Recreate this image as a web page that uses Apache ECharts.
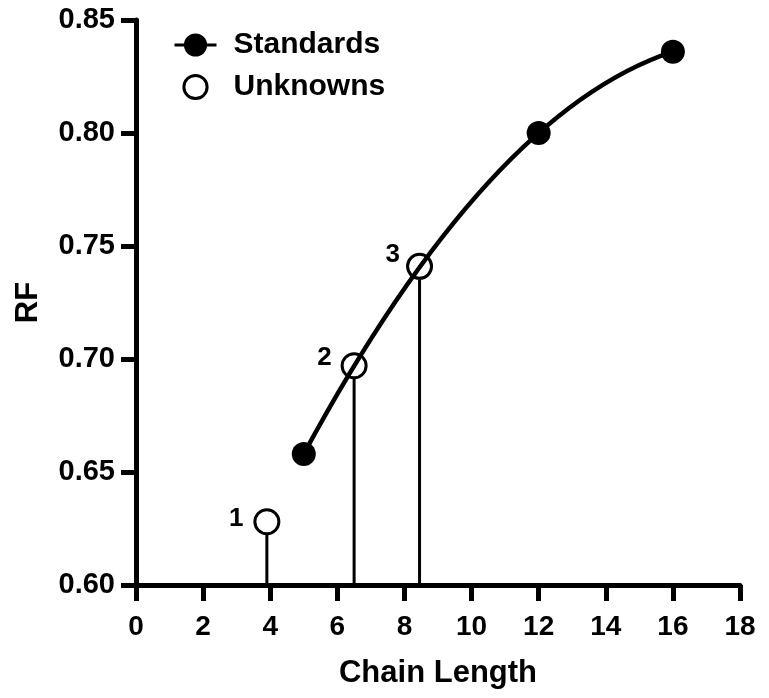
<!DOCTYPE html>
<html>
<head>
<meta charset="utf-8">
<title>RF vs Chain Length</title>
<script src="https://cdn.jsdelivr.net/npm/echarts@6/dist/echarts.min.js"></script>
<style>
  html, body { margin: 0; padding: 0; background: #fff; }
  #chart { width: 769px; height: 698px; }
</style>
</head>
<body>
<div id="chart"></div>
<script>
// Calibration standards (chain length vs RF)
var standardsX = [5, 12, 16];
var standardsY = [0.658, 0.800, 0.836];

// Unknown samples read against the calibration curve
var unknownsX = [3.9, 6.5, 8.45];
var unknownsY = [0.628, 0.697, 0.741];
var unknownLabels = ['1', '2', '3'];

// Axis ticks
var xTicks = { min: 0, max: 18, step: 2 };
var yTicks = { min: 0.60, max: 0.85, step: 0.05 };

// Label placement for the numbered unknowns
var unknownLabelOffsets = [[-2, -3], [-1, -8], [2, -12]];

var FONT = '"Liberation Sans", Arial, Helvetica, sans-serif';
var MARKER = 24;

var standardsData = standardsX.map(function (x, i) { return [x, standardsY[i]]; });
var unknownsData = unknownsX.map(function (x, i) {
  return {
    value: [x, unknownsY[i]],
    label: { formatter: unknownLabels[i], offset: unknownLabelOffsets[i] }
  };
});
var stemData = unknownsX.map(function (x, i) { return [x, unknownsY[i]]; });

// Quadratic calibration curve through the three standards, drawn as a
// quadratic Bezier (exact for a parabola) in axis coordinates.
function renderCurve(params, api) {
  if (params.dataIndex !== 0) return null;
  var x0 = standardsX[0], x1 = standardsX[1], x2 = standardsX[2];
  var y0 = standardsY[0], y1 = standardsY[1], y2 = standardsY[2];
  var f01 = (y1 - y0) / (x1 - x0);
  var f12 = (y2 - y1) / (x2 - x1);
  var a = (f12 - f01) / (x2 - x0);
  var slope0 = f01 + a * (x0 - x1);
  var cx = (x0 + x2) / 2;
  var cy = y0 + slope0 * (x2 - x0) / 2;
  var p0 = api.coord([x0, y0]);
  var pc = api.coord([cx, cy]);
  var p2 = api.coord([x2, y2]);
  return {
    type: 'bezierCurve',
    shape: { x1: p0[0], y1: p0[1], x2: p2[0], y2: p2[1], cpx1: pc[0], cpy1: pc[1] },
    style: { stroke: '#000', lineWidth: 4.5, fill: null }
  };
}

// Vertical drop line from each unknown down to the x axis
function renderStem(params, api) {
  var x = api.value(0), y = api.value(1);
  var top = api.coord([x, y]);
  var bottom = api.coord([x, yTicks.min]);
  return {
    type: 'line',
    shape: { x1: top[0], y1: top[1] + MARKER / 2 + 1, x2: bottom[0], y2: bottom[1] },
    style: { stroke: '#000', lineWidth: 3 }
  };
}

var chart = echarts.init(document.getElementById('chart'), null, { renderer: 'canvas' });

chart.setOption({
  animation: false,
  backgroundColor: '#fff',
  textStyle: { fontFamily: FONT, color: '#000' },
  grid: { left: 136, right: 29, top: 20, bottom: 113, containLabel: false },
  legend: {
    orient: 'vertical',
    left: 168,
    top: 25,
    itemWidth: 42,
    itemHeight: 29,
    itemGap: 12,
    textStyle: { fontFamily: FONT, fontSize: 30, fontWeight: 'bold', color: '#000', padding: [0, 0, 0, 12] },
    data: [
      { name: 'Standards', lineStyle: { color: '#000', width: 3, opacity: 1 } },
      { name: 'Unknowns', lineStyle: { opacity: 0, width: 0 }, itemStyle: { color: 'rgba(0,0,0,0)', borderColor: '#000', borderWidth: 3 } }
    ]
  },
  xAxis: {
    type: 'value',
    min: xTicks.min,
    max: xTicks.max,
    interval: xTicks.step,
    name: 'Chain Length',
    nameLocation: 'middle',
    nameGap: 73,
    nameTextStyle: { fontFamily: FONT, fontSize: 31, fontWeight: 'bold', color: '#000' },
    axisLine: { lineStyle: { color: '#000', width: 5 } },
    axisTick: { length: 16, lineStyle: { color: '#000', width: 5 } },
    axisLabel: { fontFamily: FONT, fontSize: 28, fontWeight: 'bold', color: '#000', margin: 28 },
    splitLine: { show: false }
  },
  yAxis: {
    type: 'value',
    min: yTicks.min,
    max: yTicks.max,
    interval: yTicks.step,
    name: 'RF',
    nameLocation: 'middle',
    nameGap: 92,
    nameTextStyle: { fontFamily: FONT, fontSize: 31, fontWeight: 'bold', color: '#000' },
    axisLine: { show: true, lineStyle: { color: '#000', width: 5 } },
    axisTick: { show: true, length: 15, lineStyle: { color: '#000', width: 5 } },
    axisLabel: {
      fontFamily: FONT, fontSize: 29, fontWeight: 'bold', color: '#000', margin: 21,
      formatter: function (v) { return v.toFixed(2); }
    },
    splitLine: { show: false }
  },
  series: [
    {
      name: 'fit',
      type: 'custom',
      renderItem: renderCurve,
      data: standardsData,
      z: 2,
      silent: true
    },
    {
      name: 'stems',
      type: 'custom',
      renderItem: renderStem,
      data: stemData,
      z: 2,
      silent: true
    },
    {
      name: 'Standards',
      type: 'line',
      data: standardsData,
      symbol: 'circle',
      symbolSize: MARKER,
      showSymbol: true,
      lineStyle: { width: 0, opacity: 0, color: '#000' },
      itemStyle: { color: '#000', borderWidth: 0, opacity: 1 },
      z: 4
    },
    {
      name: 'Unknowns',
      type: 'line',
      data: unknownsData,
      symbol: 'circle',
      symbolSize: MARKER,
      showSymbol: true,
      lineStyle: { width: 0, opacity: 0, color: '#000' },
      itemStyle: { color: 'rgba(0,0,0,0)', borderColor: '#000', borderWidth: 3, opacity: 1 },
      label: {
        show: true,
        position: 'left',
        distance: 8,
        fontFamily: FONT,
        fontSize: 26,
        fontWeight: 'bold',
        color: '#000'
      },
      z: 4
    }
  ]
});
</script>
</body>
</html>
